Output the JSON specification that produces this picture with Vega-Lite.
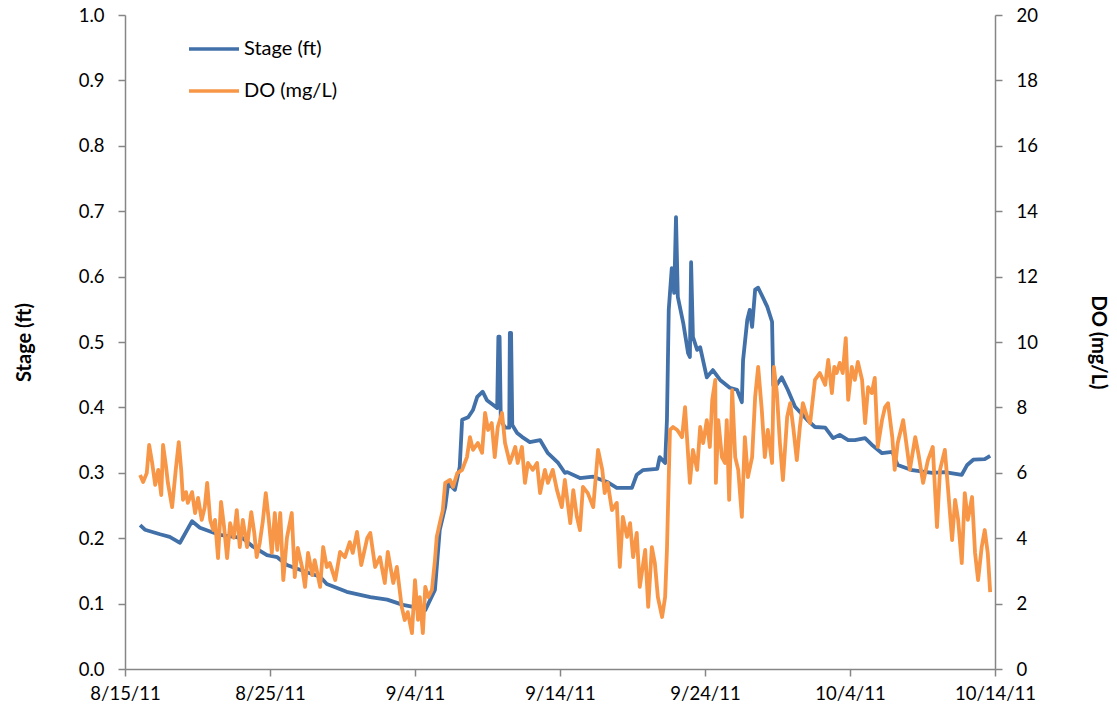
{
  "$schema": "https://vega.github.io/schema/vega-lite/v6.json",
  "width": 870,
  "height": 654,
  "autosize": "none",
  "padding": {"left": 125, "top": 15, "right": 122, "bottom": 48},
  "background": "white",
  "config": {
    "view": {"stroke": null},
    "font": "Lato",
    "axis": {"grid": false, "domainColor": "#868686", "tickColor": "#868686", "domainWidth": 1.5, "tickWidth": 1.5, "labelColor": "black", "labelFontSize": 18.5, "labelFont": "Lato", "titleFont": "Lato", "titleFontSize": 20, "titleColor": "black", "titleFontWeight": "bold"}
  },
  "datasets": {
    "stage": [
      {"t":"2011-08-16T01:00","v":0.220},{"t":"2011-08-16T09:00","v":0.213},{"t":"2011-08-17T10:00","v":0.206},{"t":"2011-08-18T02:00","v":0.202},{"t":"2011-08-18T19:00","v":0.193},{"t":"2011-08-19T15:00","v":0.226},{"t":"2011-08-20T04:00","v":0.216},{"t":"2011-08-21T13:00","v":0.205},{"t":"2011-08-23T03:00","v":0.200},{"t":"2011-08-23T20:00","v":0.187},{"t":"2011-08-24T19:00","v":0.174},{"t":"2011-08-25T12:00","v":0.171},{"t":"2011-08-26T04:00","v":0.159},{"t":"2011-08-27T13:00","v":0.148},{"t":"2011-08-28T11:00","v":0.141},{"t":"2011-08-28T22:00","v":0.130},{"t":"2011-08-30T07:00","v":0.118},{"t":"2011-08-31T22:00","v":0.110},{"t":"2011-09-02T02:00","v":0.106},{"t":"2011-09-03T04:00","v":0.098},{"t":"2011-09-03T21:00","v":0.095},{"t":"2011-09-04T17:00","v":0.090},{"t":"2011-09-05T09:00","v":0.121},{"t":"2011-09-05T17:00","v":0.213},{"t":"2011-09-06T02:00","v":0.248},{"t":"2011-09-06T07:00","v":0.284},{"t":"2011-09-06T18:00","v":0.274},{"t":"2011-09-07T02:00","v":0.309},{"t":"2011-09-07T06:00","v":0.381},{"t":"2011-09-07T16:00","v":0.385},{"t":"2011-09-08T00:00","v":0.396},{"t":"2011-09-08T07:00","v":0.416},{"t":"2011-09-08T16:00","v":0.424},{"t":"2011-09-08T23:00","v":0.411},{"t":"2011-09-09T09:00","v":0.404},{"t":"2011-09-09T16:00","v":0.399},{"t":"2011-09-09T18:00","v":0.508},{"t":"2011-09-09T20:00","v":0.508},{"t":"2011-09-09T22:00","v":0.381},{"t":"2011-09-10T05:00","v":0.369},{"t":"2011-09-10T12:00","v":0.369},{"t":"2011-09-10T13:00","v":0.514},{"t":"2011-09-10T15:00","v":0.514},{"t":"2011-09-10T17:00","v":0.373},{"t":"2011-09-11T01:00","v":0.361},{"t":"2011-09-11T09:00","v":0.355},{"t":"2011-09-11T22:00","v":0.347},{"t":"2011-09-12T15:00","v":0.350},{"t":"2011-09-13T04:00","v":0.330},{"t":"2011-09-13T21:00","v":0.315},{"t":"2011-09-14T08:00","v":0.300},{"t":"2011-09-14T12:00","v":0.301},{"t":"2011-09-15T09:00","v":0.292},{"t":"2011-09-16T07:00","v":0.294},{"t":"2011-09-17T06:00","v":0.286},{"t":"2011-09-17T22:00","v":0.277},{"t":"2011-09-18T23:00","v":0.277},{"t":"2011-09-19T07:00","v":0.297},{"t":"2011-09-19T17:00","v":0.304},{"t":"2011-09-20T17:00","v":0.306},{"t":"2011-09-20T21:00","v":0.324},{"t":"2011-09-21T06:00","v":0.315},{"t":"2011-09-21T09:00","v":0.381},{"t":"2011-09-21T12:00","v":0.549},{"t":"2011-09-21T17:00","v":0.613},{"t":"2011-09-21T21:00","v":0.575},{"t":"2011-09-22T00:00","v":0.691},{"t":"2011-09-22T03:00","v":0.569},{"t":"2011-09-22T12:00","v":0.529},{"t":"2011-09-22T20:00","v":0.483},{"t":"2011-09-22T23:00","v":0.477},{"t":"2011-09-23T01:00","v":0.622},{"t":"2011-09-23T04:00","v":0.508},{"t":"2011-09-23T11:00","v":0.488},{"t":"2011-09-23T16:00","v":0.492},{"t":"2011-09-24T03:00","v":0.446},{"t":"2011-09-24T13:00","v":0.457},{"t":"2011-09-25T01:00","v":0.442},{"t":"2011-09-25T17:00","v":0.430},{"t":"2011-09-26T05:00","v":0.427},{"t":"2011-09-26T13:00","v":0.408},{"t":"2011-09-26T15:00","v":0.472},{"t":"2011-09-26T22:00","v":0.534},{"t":"2011-09-27T02:00","v":0.549},{"t":"2011-09-27T06:00","v":0.523},{"t":"2011-09-27T11:00","v":0.580},{"t":"2011-09-27T16:00","v":0.583},{"t":"2011-09-28T07:00","v":0.554},{"t":"2011-09-28T15:00","v":0.531},{"t":"2011-09-28T17:00","v":0.434},{"t":"2011-09-28T20:00","v":0.431},{"t":"2011-09-29T07:00","v":0.446},{"t":"2011-09-29T17:00","v":0.427},{"t":"2011-09-30T05:00","v":0.401},{"t":"2011-10-01T01:00","v":0.381},{"t":"2011-10-01T14:00","v":0.370},{"t":"2011-10-02T07:00","v":0.369},{"t":"2011-10-02T20:00","v":0.353},{"t":"2011-10-03T07:00","v":0.358},{"t":"2011-10-03T21:00","v":0.350},{"t":"2011-10-04T08:00","v":0.350},{"t":"2011-10-05T01:00","v":0.353},{"t":"2011-10-05T12:00","v":0.343},{"t":"2011-10-06T05:00","v":0.330},{"t":"2011-10-06T22:00","v":0.332},{"t":"2011-10-07T07:00","v":0.312},{"t":"2011-10-08T07:00","v":0.304},{"t":"2011-10-09T16:00","v":0.300},{"t":"2011-10-10T13:00","v":0.301},{"t":"2011-10-11T17:00","v":0.297},{"t":"2011-10-12T02:00","v":0.312},{"t":"2011-10-12T12:00","v":0.320},{"t":"2011-10-13T07:00","v":0.321},{"t":"2011-10-13T16:00","v":0.326}
    ],
    "do": [
      {"t":"2011-08-16T01:00","v":5.93},{"t":"2011-08-16T06:00","v":5.72},{"t":"2011-08-16T12:00","v":5.99},{"t":"2011-08-16T16:00","v":6.85},{"t":"2011-08-16T21:00","v":6.30},{"t":"2011-08-17T02:00","v":5.63},{"t":"2011-08-17T07:00","v":6.09},{"t":"2011-08-17T12:00","v":5.32},{"t":"2011-08-17T15:00","v":6.85},{"t":"2011-08-17T20:00","v":6.18},{"t":"2011-08-17T23:00","v":5.69},{"t":"2011-08-18T06:00","v":4.95},{"t":"2011-08-18T12:00","v":6.09},{"t":"2011-08-18T17:00","v":6.94},{"t":"2011-08-18T21:00","v":6.09},{"t":"2011-08-19T00:00","v":5.17},{"t":"2011-08-19T05:00","v":5.41},{"t":"2011-08-19T08:00","v":5.08},{"t":"2011-08-19T15:00","v":5.41},{"t":"2011-08-19T20:00","v":4.77},{"t":"2011-08-20T01:00","v":5.23},{"t":"2011-08-20T07:00","v":4.56},{"t":"2011-08-20T12:00","v":4.95},{"t":"2011-08-20T16:00","v":5.69},{"t":"2011-08-20T21:00","v":4.56},{"t":"2011-08-21T02:00","v":4.25},{"t":"2011-08-21T05:00","v":4.56},{"t":"2011-08-21T10:00","v":3.39},{"t":"2011-08-21T15:00","v":5.11},{"t":"2011-08-21T20:00","v":4.34},{"t":"2011-08-22T01:00","v":3.39},{"t":"2011-08-22T06:00","v":4.46},{"t":"2011-08-22T12:00","v":4.01},{"t":"2011-08-22T17:00","v":4.86},{"t":"2011-08-22T22:00","v":3.73},{"t":"2011-08-23T03:00","v":4.56},{"t":"2011-08-23T10:00","v":3.73},{"t":"2011-08-23T17:00","v":4.80},{"t":"2011-08-23T22:00","v":4.16},{"t":"2011-08-24T02:00","v":3.42},{"t":"2011-08-24T07:00","v":3.85},{"t":"2011-08-24T12:00","v":4.50},{"t":"2011-08-24T17:00","v":5.38},{"t":"2011-08-24T22:00","v":4.56},{"t":"2011-08-25T03:00","v":3.55},{"t":"2011-08-25T08:00","v":4.77},{"t":"2011-08-25T12:00","v":3.64},{"t":"2011-08-25T17:00","v":4.77},{"t":"2011-08-25T22:00","v":2.72},{"t":"2011-08-26T04:00","v":4.01},{"t":"2011-08-26T12:00","v":4.77},{"t":"2011-08-26T17:00","v":2.81},{"t":"2011-08-26T22:00","v":3.70},{"t":"2011-08-27T05:00","v":3.12},{"t":"2011-08-27T10:00","v":2.51},{"t":"2011-08-27T15:00","v":3.55},{"t":"2011-08-27T22:00","v":2.87},{"t":"2011-08-28T02:00","v":3.33},{"t":"2011-08-28T11:00","v":2.51},{"t":"2011-08-28T16:00","v":3.73},{"t":"2011-08-28T22:00","v":3.12},{"t":"2011-08-29T03:00","v":3.24},{"t":"2011-08-29T12:00","v":2.72},{"t":"2011-08-29T20:00","v":3.58},{"t":"2011-08-30T04:00","v":3.42},{"t":"2011-08-30T12:00","v":3.88},{"t":"2011-08-30T17:00","v":3.55},{"t":"2011-08-31T00:00","v":4.19},{"t":"2011-08-31T07:00","v":3.18},{"t":"2011-08-31T17:00","v":4.01},{"t":"2011-08-31T22:00","v":4.16},{"t":"2011-09-01T06:00","v":3.12},{"t":"2011-09-01T14:00","v":3.42},{"t":"2011-09-01T22:00","v":2.63},{"t":"2011-09-02T03:00","v":3.58},{"t":"2011-09-02T12:00","v":2.63},{"t":"2011-09-02T18:00","v":3.12},{"t":"2011-09-03T02:00","v":1.90},{"t":"2011-09-03T07:00","v":1.50},{"t":"2011-09-03T12:00","v":1.74},{"t":"2011-09-03T19:00","v":1.10},{"t":"2011-09-04T00:00","v":2.72},{"t":"2011-09-04T05:00","v":1.50},{"t":"2011-09-04T08:00","v":2.20},{"t":"2011-09-04T13:00","v":1.10},{"t":"2011-09-04T17:00","v":2.51},{"t":"2011-09-04T22:00","v":2.20},{"t":"2011-09-05T04:00","v":2.42},{"t":"2011-09-05T09:00","v":3.33},{"t":"2011-09-05T12:00","v":4.04},{"t":"2011-09-05T17:00","v":4.46},{"t":"2011-09-05T22:00","v":4.86},{"t":"2011-09-06T02:00","v":5.69},{"t":"2011-09-06T10:00","v":5.78},{"t":"2011-09-06T15:00","v":5.57},{"t":"2011-09-06T22:00","v":5.99},{"t":"2011-09-07T06:00","v":6.09},{"t":"2011-09-07T14:00","v":6.48},{"t":"2011-09-07T19:00","v":7.09},{"t":"2011-09-08T00:00","v":6.70},{"t":"2011-09-08T08:00","v":6.91},{"t":"2011-09-08T15:00","v":6.61},{"t":"2011-09-08T20:00","v":7.83},{"t":"2011-09-09T01:00","v":7.31},{"t":"2011-09-09T07:00","v":7.52},{"t":"2011-09-09T12:00","v":6.48},{"t":"2011-09-09T17:00","v":7.40},{"t":"2011-09-10T00:00","v":7.83},{"t":"2011-09-10T05:00","v":6.91},{"t":"2011-09-10T13:00","v":6.30},{"t":"2011-09-10T22:00","v":6.79},{"t":"2011-09-11T02:00","v":6.30},{"t":"2011-09-11T09:00","v":6.79},{"t":"2011-09-11T14:00","v":5.69},{"t":"2011-09-11T19:00","v":6.30},{"t":"2011-09-12T03:00","v":6.09},{"t":"2011-09-12T10:00","v":6.30},{"t":"2011-09-12T15:00","v":5.38},{"t":"2011-09-12T23:00","v":6.09},{"t":"2011-09-13T04:00","v":5.69},{"t":"2011-09-13T12:00","v":6.09},{"t":"2011-09-13T19:00","v":5.47},{"t":"2011-09-14T03:00","v":4.95},{"t":"2011-09-14T08:00","v":5.78},{"t":"2011-09-14T17:00","v":4.46},{"t":"2011-09-14T22:00","v":5.47},{"t":"2011-09-15T04:00","v":4.65},{"t":"2011-09-15T09:00","v":4.25},{"t":"2011-09-15T14:00","v":5.57},{"t":"2011-09-15T22:00","v":5.38},{"t":"2011-09-16T07:00","v":4.95},{"t":"2011-09-16T15:00","v":6.70},{"t":"2011-09-16T22:00","v":6.09},{"t":"2011-09-17T02:00","v":5.38},{"t":"2011-09-17T07:00","v":5.69},{"t":"2011-09-17T14:00","v":4.86},{"t":"2011-09-17T22:00","v":5.08},{"t":"2011-09-18T03:00","v":3.12},{"t":"2011-09-18T08:00","v":4.65},{"t":"2011-09-18T15:00","v":4.04},{"t":"2011-09-18T20:00","v":4.46},{"t":"2011-09-19T01:00","v":3.42},{"t":"2011-09-19T07:00","v":4.16},{"t":"2011-09-19T12:00","v":2.51},{"t":"2011-09-19T21:00","v":3.64},{"t":"2011-09-20T02:00","v":1.90},{"t":"2011-09-20T08:00","v":3.73},{"t":"2011-09-20T13:00","v":3.24},{"t":"2011-09-20T18:00","v":2.20},{"t":"2011-09-21T01:00","v":1.59},{"t":"2011-09-21T06:00","v":2.20},{"t":"2011-09-21T09:00","v":3.64},{"t":"2011-09-21T14:00","v":7.31},{"t":"2011-09-21T19:00","v":7.40},{"t":"2011-09-22T02:00","v":7.31},{"t":"2011-09-22T10:00","v":7.09},{"t":"2011-09-22T15:00","v":8.01},{"t":"2011-09-22T23:00","v":5.69},{"t":"2011-09-23T04:00","v":6.70},{"t":"2011-09-23T11:00","v":6.09},{"t":"2011-09-23T16:00","v":7.40},{"t":"2011-09-23T21:00","v":6.91},{"t":"2011-09-24T03:00","v":7.61},{"t":"2011-09-24T08:00","v":6.79},{"t":"2011-09-24T12:00","v":8.23},{"t":"2011-09-24T17:00","v":8.84},{"t":"2011-09-24T18:00","v":5.69},{"t":"2011-09-24T22:00","v":7.61},{"t":"2011-09-25T04:00","v":6.48},{"t":"2011-09-25T09:00","v":6.30},{"t":"2011-09-25T12:00","v":7.61},{"t":"2011-09-25T16:00","v":5.17},{"t":"2011-09-25T21:00","v":8.53},{"t":"2011-09-26T02:00","v":6.48},{"t":"2011-09-26T07:00","v":6.09},{"t":"2011-09-26T13:00","v":4.65},{"t":"2011-09-26T18:00","v":7.09},{"t":"2011-09-26T23:00","v":5.87},{"t":"2011-09-27T06:00","v":6.48},{"t":"2011-09-27T11:00","v":8.32},{"t":"2011-09-27T16:00","v":9.24},{"t":"2011-09-27T22:00","v":7.92},{"t":"2011-09-28T03:00","v":6.48},{"t":"2011-09-28T08:00","v":7.31},{"t":"2011-09-28T15:00","v":6.30},{"t":"2011-09-28T18:00","v":9.24},{"t":"2011-09-28T23:00","v":8.44},{"t":"2011-09-29T04:00","v":6.91},{"t":"2011-09-29T09:00","v":5.78},{"t":"2011-09-29T16:00","v":7.71},{"t":"2011-09-29T21:00","v":8.13},{"t":"2011-09-30T02:00","v":7.40},{"t":"2011-09-30T08:00","v":6.39},{"t":"2011-09-30T13:00","v":7.40},{"t":"2011-09-30T18:00","v":8.13},{"t":"2011-10-01T01:00","v":7.71},{"t":"2011-10-01T06:00","v":7.52},{"t":"2011-10-01T14:00","v":8.84},{"t":"2011-10-01T22:00","v":9.05},{"t":"2011-10-02T07:00","v":8.69},{"t":"2011-10-02T12:00","v":9.45},{"t":"2011-10-02T18:00","v":8.44},{"t":"2011-10-02T22:00","v":9.24},{"t":"2011-10-03T02:00","v":9.05},{"t":"2011-10-03T07:00","v":9.36},{"t":"2011-10-03T12:00","v":9.05},{"t":"2011-10-03T17:00","v":10.12},{"t":"2011-10-03T21:00","v":8.23},{"t":"2011-10-04T03:00","v":9.24},{"t":"2011-10-04T08:00","v":8.84},{"t":"2011-10-04T13:00","v":9.39},{"t":"2011-10-04T20:00","v":8.84},{"t":"2011-10-05T01:00","v":7.52},{"t":"2011-10-05T06:00","v":8.62},{"t":"2011-10-05T12:00","v":8.44},{"t":"2011-10-05T17:00","v":8.90},{"t":"2011-10-05T22:00","v":6.79},{"t":"2011-10-06T05:00","v":7.61},{"t":"2011-10-06T10:00","v":8.01},{"t":"2011-10-06T15:00","v":8.13},{"t":"2011-10-06T22:00","v":7.09},{"t":"2011-10-07T02:00","v":6.09},{"t":"2011-10-07T07:00","v":6.91},{"t":"2011-10-07T16:00","v":7.61},{"t":"2011-10-07T22:00","v":6.79},{"t":"2011-10-08T03:00","v":6.09},{"t":"2011-10-08T12:00","v":7.09},{"t":"2011-10-08T17:00","v":6.61},{"t":"2011-10-09T01:00","v":5.69},{"t":"2011-10-09T09:00","v":6.39},{"t":"2011-10-09T17:00","v":6.79},{"t":"2011-10-10T00:00","v":4.34},{"t":"2011-10-10T05:00","v":6.09},{"t":"2011-10-10T13:00","v":6.70},{"t":"2011-10-10T18:00","v":5.57},{"t":"2011-10-11T01:00","v":3.94},{"t":"2011-10-11T06:00","v":5.17},{"t":"2011-10-11T11:00","v":4.56},{"t":"2011-10-11T17:00","v":3.24},{"t":"2011-10-11T22:00","v":5.38},{"t":"2011-10-12T03:00","v":4.56},{"t":"2011-10-12T10:00","v":5.26},{"t":"2011-10-12T15:00","v":3.55},{"t":"2011-10-12T20:00","v":2.72},{"t":"2011-10-13T02:00","v":3.73},{"t":"2011-10-13T07:00","v":4.25},{"t":"2011-10-13T12:00","v":3.55},{"t":"2011-10-13T16:00","v":2.35}
    ]
  },
  "encoding": {
    "x": {
      "field": "t", "type": "temporal",
      "scale": {"domain": [{"year": 2011, "month": 8, "date": 15}, {"year": 2011, "month": 10, "date": 14}]},
      "axis": {
        "title": null, "format": "%-m/%-d/%y",
        "values": [{"year": 2011, "month": 8, "date": 15}, {"year": 2011, "month": 8, "date": 25}, {"year": 2011, "month": 9, "date": 4}, {"year": 2011, "month": 9, "date": 14}, {"year": 2011, "month": 9, "date": 24}, {"year": 2011, "month": 10, "date": 4}, {"year": 2011, "month": 10, "date": 14}],
        "tickSize": 7, "labelPadding": 8, "labelFlush": false, "labelOverlap": false
      }
    }
  },
  "layer": [
    {
      "data": {"name": "stage"},
      "mark": {"type": "line", "strokeWidth": 3.8, "strokeJoin": "round"},
      "encoding": {
        "y": {"field": "v", "type": "quantitative", "scale": {"domain": [0, 1], "nice": false},
          "axis": {"title": "Stage (ft)", "orient": "left", "values": [0, 0.1, 0.2, 0.3, 0.4, 0.5, 0.6, 0.7, 0.8, 0.9, 1.0], "format": ".1f", "tickSize": 7, "labelPadding": 14, "titlePadding": 44}},
        "color": {"datum": "Stage (ft)", "type": "nominal",
          "scale": {"domain": ["Stage (ft)", "DO (mg/L)"], "range": ["#4270A8", "#F79646"]},
          "legend": {"orient": "none", "legendX": 62, "legendY": 7, "title": null, "symbolType": "stroke", "symbolSize": 2500, "symbolStrokeWidth": 3.5, "labelFontSize": 20, "labelFont": "Lato", "labelColor": "black", "rowPadding": 5, "labelOffset": 3, "padding": 0}}
      }
    },
    {
      "data": {"name": "do"},
      "mark": {"type": "line", "strokeWidth": 3.8, "strokeJoin": "round"},
      "encoding": {
        "y": {"field": "v", "type": "quantitative", "scale": {"domain": [0, 20], "nice": false},
          "axis": {"title": "DO (mg/L)", "orient": "right", "values": [0, 2, 4, 6, 8, 10, 12, 14, 16, 18, 20], "tickSize": 7, "labelPadding": 14, "titlePadding": 50}},
        "color": {"datum": "DO (mg/L)", "type": "nominal"}
      }
    }
  ],
  "resolve": {"scale": {"y": "independent"}}
}
